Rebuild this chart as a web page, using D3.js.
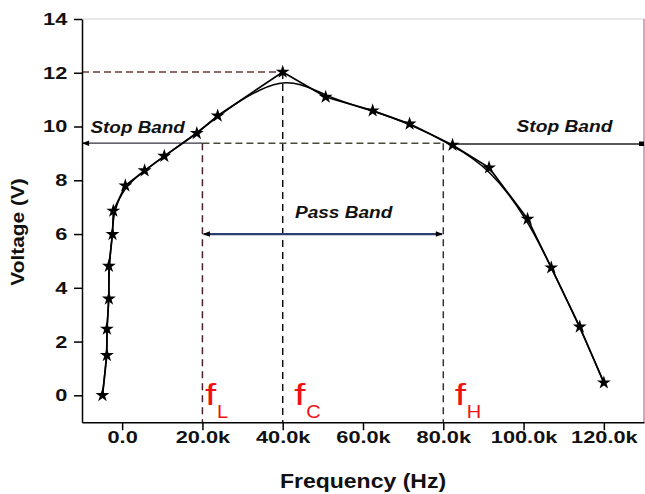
<!DOCTYPE html>
<html>
<head>
<meta charset="utf-8">
<script src="https://cdn.jsdelivr.net/npm/d3@7"></script>
<style>
	body { margin: 0; background: #fff; }
	svg { display: block; font-family: 'Liberation Sans', Arial, sans-serif; }
	.axis path, .axis line { stroke: #000; stroke-width: 1.5; }
	.axis text { font-size: 17px; font-weight: bold; fill: #111; }
</style>
</head>
<body>
<svg id="chart" width="645" height="494"></svg>
<script>
// measured points (Hz, V)
var freq = [-4900, -3800, -3800, -3300, -3300, -2400, -2200, 800, 5600, 10500, 18600, 23800,
	40000, 50700, 62400, 71600, 82300, 91400, 101000, 106900, 114000, 120000];
var volt = [0, 1.49, 2.47, 3.59, 4.81, 5.99, 6.86, 7.8, 8.36, 8.9, 9.75, 10.4,
	12.03, 11.1, 10.59, 10.1, 9.31, 8.47, 6.56, 4.75, 2.55, 0.47];

var xTicks = [0, 20000, 40000, 60000, 80000, 100000, 120000];
var xMinorTicks = [-10000, 10000, 30000, 50000, 70000, 90000, 110000, 130000];
var yTicks = [0, 2, 4, 6, 8, 10, 12, 14];
var yMinorTicks = [-1, 1, 3, 5, 7, 9, 11, 13];

var fLow = 20000, fCenter = 40000, fHigh = 80000;
var peakVolt = 12.03, cutoffVolt = 9.38, passArrowVolt = 6.0;

var svg = d3.select('#chart');

var x = d3.scaleLinear().domain([-10000, 130000]).range([82, 644]);
var y = d3.scaleLinear().domain([-1, 14]).range([422.2, 19]);

var data = freq.map(function(f, i) { return {f: f, v: volt[i]}; });

function fmtK(v) { return v === 0 ? '0.0' : (v / 1000).toFixed(1) + 'k'; }

// stretched text helper (original fonts are wide)
function label(txt, px, py, size, sx, opts) {
	opts = opts || {};
	var g = svg.append('g').attr('transform', 'translate(' + px + ',' + py + ') ' + (opts.rotate ? 'rotate(' + opts.rotate + ') ' : '') + 'scale(' + sx + ',1)');
	return g.append('text')
		.attr('text-anchor', opts.anchor || 'start')
		.style('font-size', size + 'px')
		.style('font-weight', 'bold')
		.style('font-style', opts.italic ? 'italic' : 'normal')
		.attr('fill', opts.fill || '#111')
		.text(txt);
}

var defs = svg.append('defs');
defs.append('marker').attr('id', 'arr').attr('viewBox', '0 0 10 10')
	.attr('refX', 9).attr('refY', 5).attr('markerWidth', 9).attr('markerHeight', 7)
	.attr('markerUnits', 'userSpaceOnUse').attr('orient', 'auto-start-reverse')
	.append('path').attr('d', 'M0,1 L10,5 L0,9 Z').attr('fill', '#000');
defs.append('marker').attr('id', 'sq').attr('viewBox', '0 0 10 10')
	.attr('refX', 10).attr('refY', 5).attr('markerWidth', 6).attr('markerHeight', 5)
	.attr('markerUnits', 'userSpaceOnUse')
	.append('rect').attr('width', 10).attr('height', 10).attr('fill', '#000');

// frame
svg.append('line').attr('x1', x(-10000)).attr('x2', x(130000)).attr('y1', y(14)).attr('y2', y(14))
	.attr('stroke', '#d4d4d4').attr('stroke-width', 1.2);
svg.append('line').attr('x1', x(130000)).attr('x2', x(130000)).attr('y1', y(14)).attr('y2', y(-1))
	.attr('stroke', '#dba3bb').attr('stroke-width', 2);

// guide lines
function guide(x1, y1, x2, y2, color, dash, w) {
	return svg.append('line')
		.attr('x1', x(x1)).attr('y1', y(y1)).attr('x2', x(x2)).attr('y2', y(y2))
		.attr('stroke', color).attr('stroke-width', w || 1.5)
		.attr('stroke-dasharray', dash);
}
guide(-10000, peakVolt, fCenter, peakVolt, '#6a3a3a', '7,4');
guide(fCenter, peakVolt, fCenter, -1, '#111', '7,5');
guide(fLow, cutoffVolt, fHigh, cutoffVolt, '#4a4a38', '7,4');
guide(fLow, cutoffVolt, fLow, -1, '#4a1f2a', '7,5');
guide(fHigh, cutoffVolt, fHigh, -1, '#333', '7,5');

// stop band arrows
guide(fLow, cutoffVolt, -9800, cutoffVolt, '#334', null, 1.3).attr('marker-end', 'url(#arr)');
guide(82300, cutoffVolt - 0.03, 130000, cutoffVolt - 0.03, '#222', null, 1.3).attr('marker-end', 'url(#sq)');
// pass band arrow
guide(fLow + 300, passArrowVolt, fHigh - 300, passArrowVolt, '#2c3d72', null, 2.2)
	.attr('marker-start', 'url(#arr)').attr('marker-end', 'url(#arr)');

// curves
svg.append('path').datum(data)
	.attr('fill', 'none').attr('stroke', '#000').attr('stroke-width', 1.7)
	.attr('d', d3.line().x(function(d) { return x(d.f); }).y(function(d) { return y(d.v); }));
svg.append('path').datum(data)
	.attr('fill', 'none').attr('stroke', '#000').attr('stroke-width', 1.5)
	.attr('d', d3.line().curve(d3.curveBasis).x(function(d) { return x(d.f); }).y(function(d) { return y(d.v); }));

svg.selectAll('.star').data(data).enter().append('path')
	.attr('class', 'star')
	.attr('transform', function(d) { return 'translate(' + x(d.f) + ',' + y(d.v) + ')'; })
	.attr('d', d3.symbol().type(d3.symbolStar).size(60))
	.attr('fill', '#000');

// axes
var leftAxis = svg.append('g').attr('class', 'axis').attr('transform', 'translate(' + x(-10000) + ',0)');
leftAxis.call(d3.axisLeft(y).tickValues(yMinorTicks).tickSize(5).tickFormat(''));
leftAxis.call(d3.axisLeft(y).tickValues(yTicks).tickSize(8).tickSizeOuter(0));
leftAxis.selectAll('text').attr('x', -11.5).attr('transform', 'scale(1.28,1)');

var bottomAxis = svg.append('g').attr('class', 'axis').attr('transform', 'translate(0,' + y(-1) + ')');
bottomAxis.call(d3.axisBottom(x).tickValues(xMinorTicks).tickSize(5).tickFormat(''));
bottomAxis.call(d3.axisBottom(x).tickValues(xTicks).tickSize(8).tickSizeOuter(0).tickFormat(fmtK));
bottomAxis.selectAll('text').attr('y', 9).attr('transform', 'scale(1.28,1)');
svg.selectAll('.axis .domain').attr('stroke-width', 2);

// axis titles
label('Frequency (Hz)', 363, 488, 20, 1.15, {anchor: 'middle'});
label('Voltage (V)', 24, 232, 18, 1.16, {anchor: 'middle', rotate: -90});

// annotations
label('Stop Band', 90.5, 133, 16, 1.18, {italic: true});
label('Stop Band', 516.5, 131.5, 16, 1.2, {italic: true});
label('Pass Band', 295, 218, 16, 1.19, {italic: true});

function freqMark(main, sub, f, off) {
	var px = x(f) + off;
	label(main, px, 405, 30, 1.35, {fill: '#ee1111'}).style('font-weight', 'normal');
	label(sub, px + 12, 418, 19, 1.05, {fill: '#ee1111'}).style('font-weight', 'normal');
}
freqMark('f', 'L', fLow, 2.5);
freqMark('f', 'C', fCenter, 11.5);
freqMark('f', 'H', fHigh, 11.5);
</script>
</body>
</html>
